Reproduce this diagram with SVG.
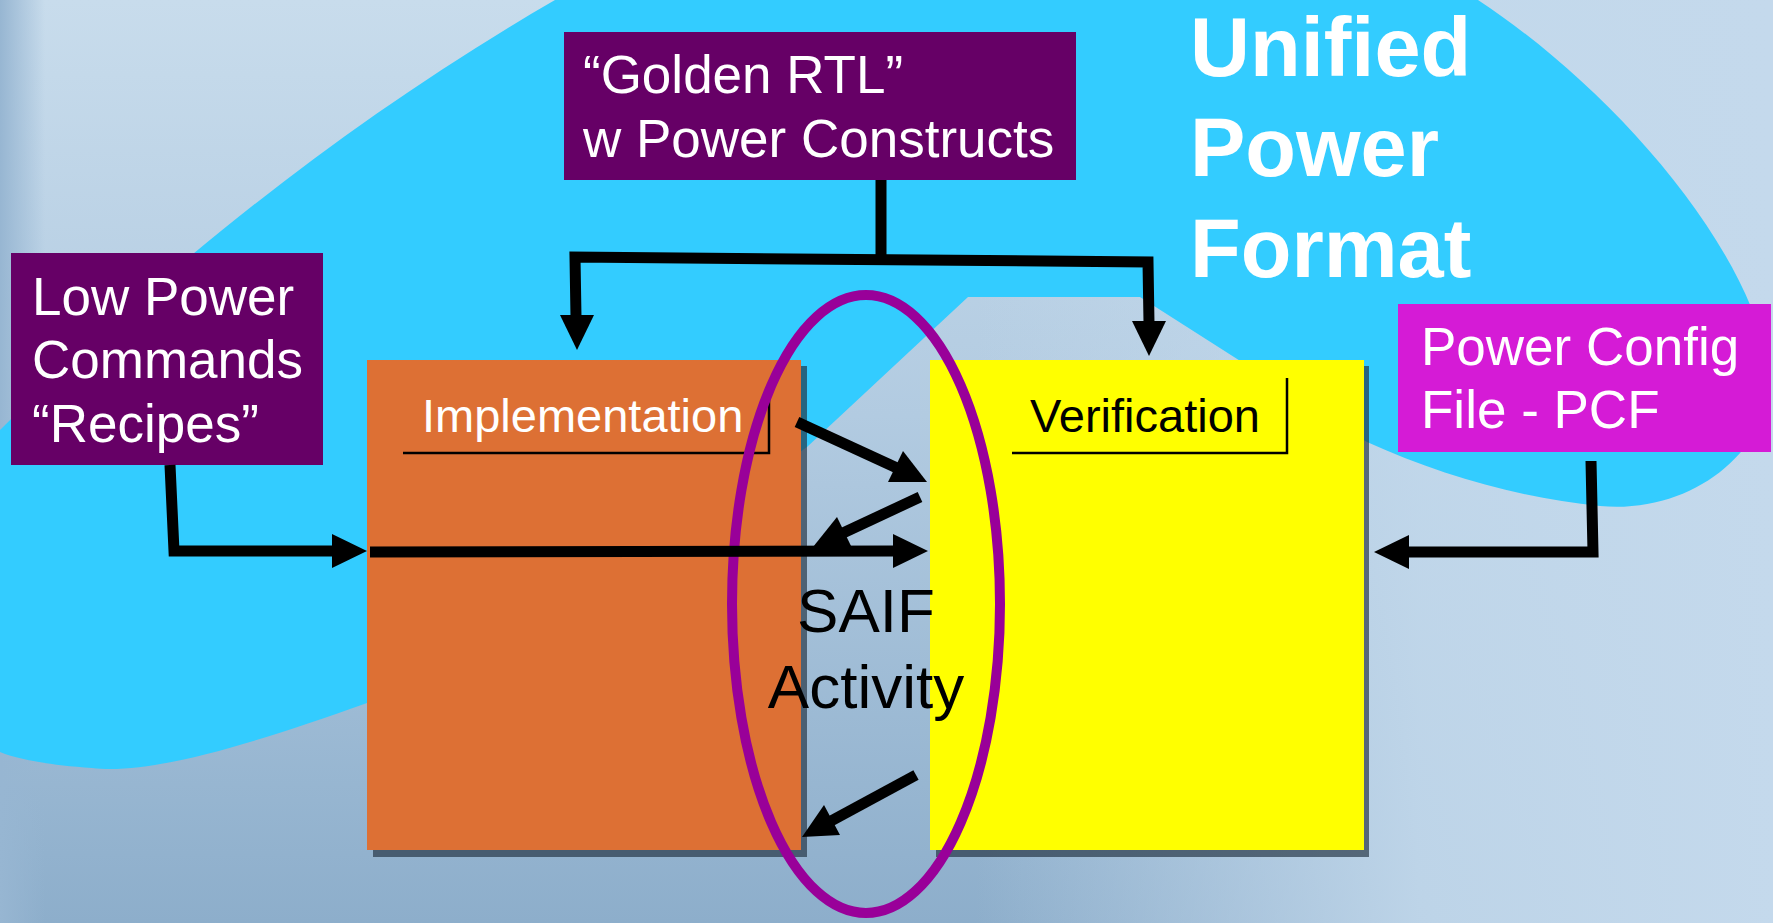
<svg xmlns="http://www.w3.org/2000/svg" width="1773" height="923" viewBox="0 0 1773 923">
<defs>
<linearGradient id="bg" x1="0" y1="0" x2="0" y2="1">
<stop offset="0" stop-color="#C8DCEC"/>
<stop offset="0.45" stop-color="#B2CBE1"/>
<stop offset="1" stop-color="#8DAECB"/>
</linearGradient>
<linearGradient id="bgR" x1="0" y1="0" x2="1" y2="0">
<stop offset="0.55" stop-color="#C4D9EC" stop-opacity="0"/>
<stop offset="0.8" stop-color="#C2D8EB" stop-opacity="0.9"/>
<stop offset="1" stop-color="#C4D9EC" stop-opacity="1"/>
</linearGradient>
<linearGradient id="bgL" x1="0" y1="0" x2="1" y2="0">
<stop offset="0" stop-color="#97B6D2" stop-opacity="1"/>
<stop offset="1" stop-color="#97B6D2" stop-opacity="0"/>
</linearGradient>
<style>
.t{font-family:"Liberation Sans",Arial,Helvetica,sans-serif;}
.w{fill:#FFFFFF;}
.k{fill:#000000;}
.purple{fill:#660066;}
.shadow{fill:#1E2E3E;fill-opacity:0.65;}
.conn{fill:none;stroke:#000;stroke-width:11;stroke-linejoin:miter;stroke-linecap:butt;}
.head{fill:#000;}
.lbl{fill:none;stroke:#000;stroke-width:2.5;}
</style>
</defs>

<!-- background -->
<rect x="0" y="0" width="1773" height="923" fill="url(#bg)"/>
<rect x="0" y="0" width="1773" height="923" fill="url(#bgR)"/>
<rect x="0" y="0" width="45" height="923" fill="url(#bgL)"/>

<!-- cyan blob -->
<path d="M 555 0 L 1478 0 C 1600 80 1740 230 1768 360 C 1782 440 1700 515 1600 506 C 1520 498 1440 475 1367 442 L 1140 297 L 968 297 L 807 447 C 650 560 500 660 367 703 C 250 745 150 775 92 768 C 50 765 20 760 0 752 L 0 430 C 140 290 330 130 555 0 Z" fill="#33CCFF"/>

<!-- Golden RTL -->
<g id="golden">
<rect x="564" y="32" width="512" height="148" class="purple"/>
<text class="t w" font-size="53" x="583" y="93">“Golden RTL”</text>
<text class="t w" font-size="53" x="583" y="157">w Power Constructs</text>
</g>

<!-- Low Power Commands -->
<g id="lowpower">
<rect x="11" y="253" width="312" height="212" class="purple"/>
<text class="t w" font-size="53" x="32" y="315">Low Power</text>
<text class="t w" font-size="53" x="32" y="378">Commands</text>
<text class="t w" font-size="53" x="32" y="442">“Recipes”</text>
</g>

<!-- Unified Power Format title -->
<g id="title">
<text class="t w" font-size="83" font-weight="bold" x="1190" y="76">Unified</text>
<text class="t w" font-size="83" font-weight="bold" x="1190" y="176">Power</text>
<text class="t w" font-size="83" font-weight="bold" x="1190" y="277">Format</text>
</g>

<!-- Power Config File -->
<g id="pcf">
<rect x="1398" y="304" width="373" height="148" fill="#D51BD6"/>
<text class="t w" font-size="53" x="1421" y="365">Power Config</text>
<text class="t w" font-size="53" x="1421" y="428">File - PCF</text>
</g>

<!-- Implementation -->
<g id="implementation">
<rect x="373" y="366" width="434" height="491" class="shadow"/>
<rect x="367" y="360" width="434" height="490" fill="#DD7034"/>
<polyline points="403,453 769,453 769,398" class="lbl"/>
<text class="t w" font-size="47" x="422" y="432">Implementation</text>
</g>

<!-- Verification -->
<g id="verification">
<rect x="936" y="366" width="433" height="491" class="shadow"/>
<rect x="930" y="360" width="434" height="490" fill="#FFFF00"/>
<polyline points="1012,453 1287,453 1287,378" class="lbl"/>
<text class="t k" font-size="47" x="1030" y="432">Verification</text>
</g>

<!-- SAIF Activity -->
<g id="saif">
<text class="t k" font-size="62" x="866" y="632" text-anchor="middle">SAIF</text>
<text class="t k" font-size="62" x="866" y="708" text-anchor="middle">Activity</text>
</g>

<!-- ellipse -->
<g id="ellipse">
<ellipse cx="866" cy="604" rx="134" ry="309" fill="none" stroke="#990099" stroke-width="10"/>
</g>

<!-- connectors -->
<g id="connectors">
<path class="conn" d="M 881 180 L 881 258"/>
<path class="conn" d="M 576 317 L 575 257 L 1148 262 L 1149 323"/>
<polygon class="head" points="577,350 560,315 594,315"/>
<polygon class="head" points="1149,356 1132,321 1166,321"/>

<path class="conn" d="M 170 465 L 174 551 L 334 551"/>
<polygon class="head" points="367,551 332,534 332,568"/>

<path class="conn" d="M 370 552 L 895 551"/>
<polygon class="head" points="928,551 893,534 893,568"/>

<path class="conn" d="M 797 422 L 897 468"/>
<polygon class="head" points="927,482 888,482 903,451"/>

<path class="conn" d="M 920 497 L 843 533"/>
<polygon class="head" points="813,547 852,548 837,517"/>

<path class="conn" d="M 916 775 L 831 821"/>
<polygon class="head" points="802,837 840,835 824,805"/>

<path class="conn" d="M 1591 461 L 1593 552 L 1407 552"/>
<polygon class="head" points="1374,552 1409,535 1409,569"/>
</g>
</svg>
